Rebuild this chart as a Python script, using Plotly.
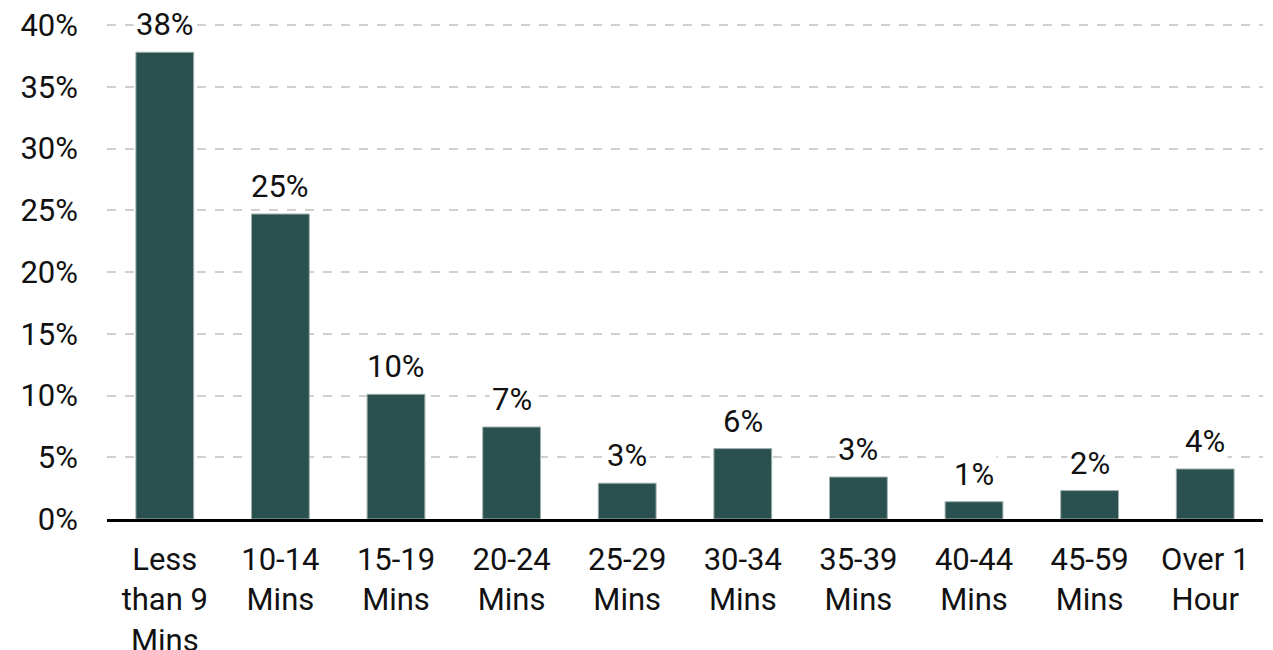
import plotly.graph_objects as go

categories = ["Less<br>than 9<br>Mins", "10-14<br>Mins", "15-19<br>Mins", "20-24<br>Mins",
              "25-29<br>Mins", "30-34<br>Mins", "35-39<br>Mins", "40-44<br>Mins",
              "45-59<br>Mins", "Over 1<br>Hour"]
values = [37.8, 24.7, 10.1, 7.45, 2.9, 5.7, 3.4, 1.4, 2.3, 4.05]
labels = ["38%", "25%", "10%", "7%", "3%", "6%", "3%", "1%", "2%", "4%"]
y_ticks = [0, 5, 10, 15, 20, 25, 30, 35, 40]
y_tick_text = ["0%", "5%", "10%", "15%", "20%", "25%", "30%", "35%", "40%"]

FONT = "Roboto"
fig = go.Figure()
fig.add_trace(go.Bar(
    x=categories, y=values,
    marker=dict(color="#2b5050", line=dict(color="#9fb0ae", width=1)),
    hoverinfo="skip",
))
for c, v, t in zip(categories, values, labels):
    fig.add_annotation(x=c, y=v, text=t, showarrow=False, yanchor="bottom",
                       yshift=6, bgcolor="white", borderpad=2,
                       font=dict(family=FONT, size=31, color="#111111"))

fig.update_layout(
    width=1273, height=650,
    margin=dict(l=99, r=18, t=14, b=139, autoexpand=False),
    plot_bgcolor="white", paper_bgcolor="white",
    bargap=0.5, showlegend=False,
    font=dict(family=FONT, size=31, color="#111111"),
)
fig.update_yaxes(range=[0, 40.25], tickvals=y_ticks, ticktext=y_tick_text,
                 showgrid=True, gridcolor="#d0d0d0", griddash="dash", gridwidth=1.5,
                 zeroline=False, showline=False, ticks="", ticklabelstandoff=28,
                 ticklabeloverflow="allow", automargin=False)
fig.update_xaxes(showline=True, linecolor="black", linewidth=2.5, ticks="",
                 showgrid=False, ticklabelstandoff=11, ticklabeloverflow="allow",
                 automargin=False)
fig.write_html("out.html")
